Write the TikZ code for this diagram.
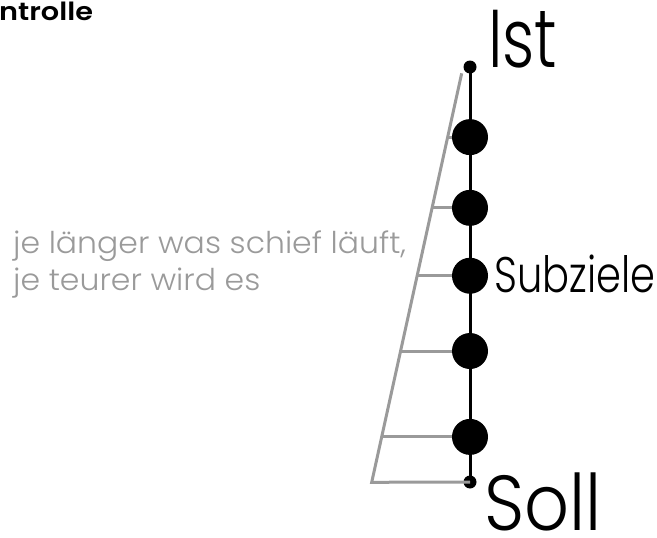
\documentclass[tikz,border=0pt]{standalone}
\usepackage{graphicx}
\usepackage{fontspec}
\setmainfont{Poppins Light}
\newfontfamily\headfont{Poppins SemiBold}
\newfontfamily\costfont{Poppins Light}[FakeStretch=1.05]
\definecolor{linegray}{HTML}{9A9A9A}
\newcommand{\squeeze}[2]{\scalebox{#1}[1]{#2}}

\tikzstyle{axis} = [draw,line width=3pt]
\tikzstyle{ramp} = [draw,line width=3pt,linegray,line join=miter]

\begin{document}
\begin{tikzpicture}[x=1pt,y=-1pt,bigdot/.style={circle,fill=black,minimum size=36pt,inner sep=0pt},smalldot/.style={circle,fill=black,minimum size=13pt,inner sep=0pt},label/.style={anchor=base west,inner sep=0pt}]
\useasboundingbox (0,0) rectangle (657,538);
% Ist -- Soll
\node[smalldot] (ist) at (470,67) {};
\node[smalldot] (soll) at (470,482) {};
\draw [axis] (ist.center) -- (soll.center);
% ramp
\coordinate (rtop) at (461.7,73.3);
\coordinate (rbot) at (371.7,482.3);
\path (rtop) -- (rbot)
  coordinate[pos=0.156] (r1) coordinate[pos=0.329] (r2)
  coordinate[pos=0.495] (r3) coordinate[pos=0.679] (r4)
  coordinate[pos=0.889] (r5);
\draw [ramp] (rtop) -- (rbot) -- (soll.center);
\draw [ramp] (r1) -- (r1 -| ist);
\draw [ramp] (r2) -- (r2 -| ist);
\draw [ramp] (r3) -- (r3 -| ist);
\draw [ramp] (r4) -- (r4 -| ist);
\draw [ramp] (r5) -- (r5 -| ist);
% Subziele
\node[bigdot] (s1) at (r1 -| ist) {};
\node[bigdot] (s2) at (r2 -| ist) {};
\node[bigdot] (s3) at (r3 -| ist) {};
\node[bigdot] (s4) at (r4 -| ist) {};
\node[bigdot] (s5) at (r5 -| ist) {};
% labels
\node[label,font=\fontsize{82}{82}\selectfont] (istlabel) at (488,67.7) {\squeeze{0.77}{Ist}};
\node[label,text depth=0pt,font=\fontsize{78}{78}\selectfont] (solllabel) at (484,530) {\squeeze{0.9}{Soll}};
\node[label,font=\fontsize{50}{50}\selectfont] (sublabel) at (494,292.5) {\squeeze{0.8}{Subziele}};
\node[label,align=left,text=linegray,font=\costfont\fontsize{30}{37}\selectfont] (cost) at (13,290) {je länger was schief läuft,\\je teurer wird es};
\node[label,font=\headfont\fontsize{25}{25}\selectfont] (head) at (-1,20) {\squeeze{1.15}{ntrolle}};
\end{tikzpicture}
\end{document}
